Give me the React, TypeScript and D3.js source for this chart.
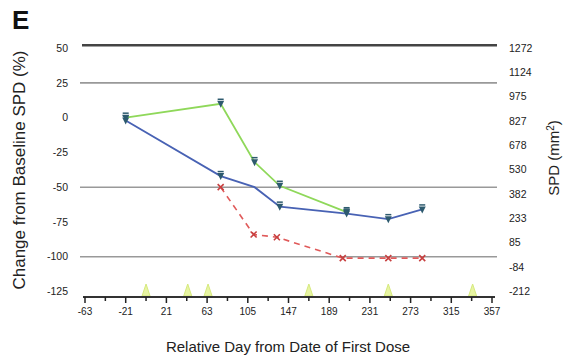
import React from "react";
import * as d3 from "d3";

const xTicks = d3.range(-63, 358, 21);
const xLabels = [-63, -21, 21, 63, 105, 147, 189, 231, 273, 315, 357];
const leftTicks = [50, 25, 0, -25, -50, -75, -100, -125];
const rightLabels = ["1272", "1124", "975", "827", "678", "530", "382", "233", "85", "-84", "-212"];
const gridGray = [25, -50, -100];
const gridTop = 50;

const greenDays = [-21, 77, 112, 138, 207];
const greenVals = [0, 10, -32, -49, -68];
const blueDays = [-21, 77, 112, 138, 207, 250, 285];
const blueVals = [-2, -42, -50, -64, -69, -73, -66];
const blueMarked = [true, true, false, true, true, true, true];
const redDays = [77, 111, 135, 203, 250, 285];
const redVals = [-50, -84, -86, -101, -101, -101];
const doseDays = [0, 43, 64, 168, 250, 337];

const W = 570, H = 361;
const x = d3.scaleLinear().domain([-63, 357]).range([85, 492]);
const y = d3.scaleLinear().domain([-129, 53]).range([297, 44]);
const yR = d3.scalePoint<string>().domain(rightLabels).range([y(50), y(-125)]);

const font = "'Liberation Sans', Arial, sans-serif";

function Tri({ cx, cy }: { cx: number; cy: number }) {
  return (
    <g>
      <line x1={cx - 3} x2={cx + 3} y1={cy - 4.5} y2={cy - 4.5} stroke="#2d5a6e" strokeWidth={1.5} />
      <path d={`M${cx - 3.5},${cy - 3} L${cx + 3.5},${cy - 3} L${cx},${cy + 4} Z`} fill="#2d5a6e" />
    </g>
  );
}

function Cross({ cx, cy }: { cx: number; cy: number }) {
  return (
    <path
      d={`M${cx - 3},${cy - 3} L${cx + 3},${cy + 3} M${cx - 3},${cy + 3} L${cx + 3},${cy - 3}`}
      stroke="#c84040"
      strokeWidth={1.6}
    />
  );
}

export default function App() {
  const line = d3
    .line<[number, number]>()
    .x((d) => x(d[0]))
    .y((d) => y(d[1]));
  const green = greenDays.map((d, i) => [d, greenVals[i]] as [number, number]);
  const blue = blueDays.map((d, i) => [d, blueVals[i]] as [number, number]);
  const red = redDays.map((d, i) => [d, redVals[i]] as [number, number]);
  const yAxis = 297;

  return (
    <svg width={W} height={H} style={{ position: "absolute", left: 0, top: 0, background: "#fff" }}>
      <rect width={W} height={H} fill="#fff" />
      <text x={12} y={29} fontFamily={font} fontSize={26} fontWeight="bold" fill="#111">E</text>

      {/* grid */}
      <line x1={82} x2={497} y1={y(gridTop) - 3} y2={y(gridTop) - 3} stroke="#444" strokeWidth={2.5} />
      {gridGray.map((g) => (
        <line key={g} x1={80} x2={497} y1={y(g)} y2={y(g)} stroke="#999" strokeWidth={1.6} />
      ))}

      {/* left tick labels */}
      {leftTicks.map((t) => (
        <text key={t} x={68} y={y(t)} dy="0.35em" textAnchor="end" fontFamily={font} fontSize={10.5} fill="#222">
          {t}
        </text>
      ))}
      {/* right tick labels */}
      {rightLabels.map((t) => (
        <text key={t} x={509} y={yR(t)} dy="0.35em" textAnchor="start" fontFamily={font} fontSize={10.5} fill="#222">
          {t}
        </text>
      ))}

      {/* dose triangles */}
      {doseDays.map((d) => (
        <path
          key={d}
          d={`M${x(d) - 4},${yAxis - 1} L${x(d) + 4},${yAxis - 1} L${x(d)},${yAxis - 13} Z`}
          fill="#e6f49a"
          stroke="#d2e870"
          strokeWidth={1}
          opacity={0.9}
        />
      ))}

      {/* x axis */}
      <line x1={83} x2={495} y1={yAxis} y2={yAxis} stroke="#333" strokeWidth={2} />
      {xTicks.map((t) => {
        const major = xLabels.includes(t);
        return (
          <line key={t} x1={x(t)} x2={x(t)} y1={yAxis} y2={yAxis + (major ? 6 : 4)} stroke="#222" strokeWidth={1.5} />
        );
      })}
      {xLabels.map((t) => (
        <text key={t} x={x(t)} y={yAxis + 18} textAnchor="middle" fontFamily={font} fontSize={10} fill="#222">
          {t}
        </text>
      ))}

      {/* series */}
      <path d={line(green) || ""} fill="none" stroke="#8fd85a" strokeWidth={1.8} />
      <path d={line(blue) || ""} fill="none" stroke="#4862b4" strokeWidth={1.8} />
      <path d={line(red) || ""} fill="none" stroke="#e05a5a" strokeWidth={1.6} strokeDasharray="6,5" />
      {green.map((p, i) => (
        <Tri key={"g" + i} cx={x(p[0])} cy={y(p[1])} />
      ))}
      {blue.map((p, i) =>
        blueMarked[i] ? <Tri key={"b" + i} cx={x(p[0])} cy={y(p[1])} /> : null
      )}
      {red.map((p, i) => (
        <Cross key={"r" + i} cx={x(p[0])} cy={y(p[1])} />
      ))}

      {/* titles */}
      <text
        transform={`translate(25,170) rotate(-90)`}
        textAnchor="middle"
        fontFamily={font}
        fontSize={17}
        fill="#222"
      >
        Change from Baseline SPD (%)
      </text>
      <text
        transform={`translate(559,158) rotate(-90)`}
        textAnchor="middle"
        fontFamily={font}
        fontSize={15}
        fill="#222"
      >
        SPD (mm<tspan dy={-5} fontSize={10}>2</tspan><tspan dy={5}>)</tspan>
      </text>
      <text x={288} y={352} textAnchor="middle" fontFamily={font} fontSize={15} fill="#222">
        Relative Day from Date of First Dose
      </text>
    </svg>
  );
}
